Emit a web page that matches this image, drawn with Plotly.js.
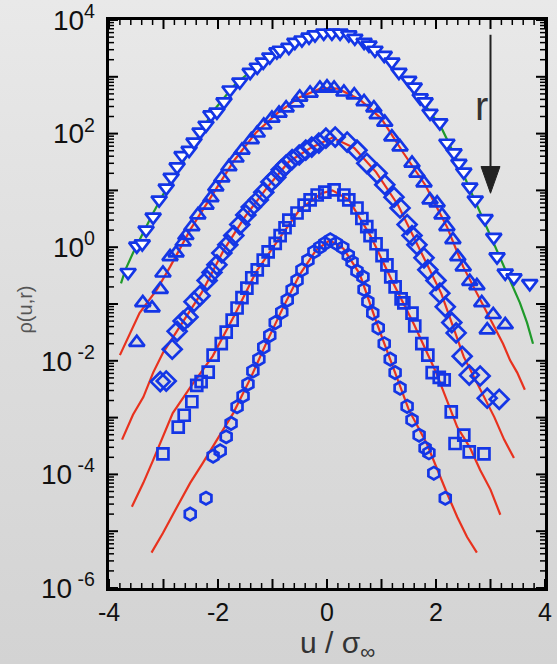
<!DOCTYPE html>
<html>
<head>
<meta charset="utf-8">
<script src="https://cdn.plot.ly/plotly-3.0.1.min.js"></script>
<style>
html,body{margin:0;padding:0;}
body{width:557px;height:664px;background:linear-gradient(180deg,#e9e9e9 0%,#dedede 45%,#d3d3d3 100%);}
#chart{width:557px;height:664px;}
</style>
</head>
<body>
<div id="chart"></div>
<script>
// ---- markers (u / sigma_inf, rho) ----
const u1 = [-3.65,-3.49,-3.39,-3.32,-3.19,-3.08,-2.95,-2.86,-2.75,-2.66,-2.53,-2.44,-2.33,-2.22,-2.13,-2.02,-1.89,-1.78,-1.60,-1.41,-1.28,-1.17,-1.05,-0.92,-0.86,-0.70,-0.59,-0.46,-0.33,-0.22,-0.06,0.09,0.24,0.40,0.51,0.68,0.77,0.88,1.05,1.19,1.32,1.50,1.60,1.71,1.80,1.89,2.07,2.20,2.33,2.42,2.51,2.62,2.72,2.90,3.06,3.12,3.27,3.43,3.72];
const p1 = [0.36,1.05,1.15,2.0,3.4,6.8,11,17,26,41,51,71,107,141,214,240,363,589,813,1200,1480,1820,2240,2750,2950,3310,4070,4470,5010,5500,5890,5890,5890,5500,4790,4070,3630,2950,2400,1820,1200,870,660,427,363,229,155,68,46,30,21,11.5,6.8,3.2,1.5,0.68,0.35,0.29,0.23];

const u2 = [-3.49,-3.38,-3.21,-3.06,-3.01,-2.88,-2.77,-2.64,-2.59,-2.48,-2.37,-2.22,-2.13,-2.04,-1.93,-1.80,-1.67,-1.56,-1.39,-1.28,-1.16,-1.01,-0.88,-0.75,-0.57,-0.50,-0.31,-0.13,0.0,0.13,0.31,0.50,0.68,0.86,0.92,1.06,1.19,1.34,1.56,1.65,1.78,1.89,2.02,2.11,2.20,2.31,2.40,2.50,2.62,2.75,2.84,3.05,2.94,3.27];
const p2 = [0.021,0.105,0.085,0.18,0.35,0.68,0.79,1.23,1.6,2.3,3.7,5.5,7.4,11.5,16.6,26,37,51,78,102,141,186,229,282,347,437,513,631,661,631,537,479,363,282,214,158,87,58,30,20,13.5,6.8,6.0,3.7,2.3,1.35,0.68,0.45,0.25,0.21,0.105,0.065,0.035,0.043];

const u3 = [-3.06,-2.95,-2.84,-2.75,-2.64,-2.55,-2.44,-2.33,-2.20,-2.11,-2.02,-1.93,-1.82,-1.71,-1.60,-1.49,-1.39,-1.26,-1.16,-1.03,-0.94,-0.84,-0.75,-0.64,-0.51,-0.39,-0.28,-0.15,-0.02,0.15,0.37,0.55,0.73,0.92,1.06,1.23,1.34,1.47,1.56,1.65,1.78,1.85,2.00,2.07,2.17,2.29,2.37,2.48,2.61,2.81,2.94,3.16];
const p3 = [0.0043,0.0044,0.016,0.033,0.050,0.059,0.11,0.14,0.26,0.36,0.49,0.79,1.1,1.6,2.5,3.7,5.1,6.8,9.3,14,17,23,28,35,42,51,58,68,83,87,71,51,30,20,12.6,7.6,4.9,2.5,1.6,1.1,0.65,0.40,0.26,0.155,0.089,0.047,0.031,0.012,0.0056,0.0054,0.0022,0.0021];

const u4 = [-3.01,-2.73,-2.62,-2.48,-2.39,-2.31,-2.18,-2.09,-1.94,-1.85,-1.74,-1.65,-1.56,-1.47,-1.38,-1.28,-1.17,-1.08,-0.95,-0.86,-0.77,-0.70,-0.55,-0.42,-0.31,-0.18,-0.04,0.13,0.31,0.40,0.55,0.64,0.73,0.79,0.90,1.01,1.10,1.17,1.25,1.36,1.41,1.56,1.61,1.74,1.85,1.93,2.06,2.15,2.28,2.51,2.35,2.61,2.88];
const p4 = [0.00023,0.00068,0.0011,0.0019,0.0037,0.0043,0.0063,0.0126,0.020,0.032,0.052,0.085,0.13,0.19,0.29,0.40,0.59,0.83,1.17,1.6,2.2,3.0,4.0,5.5,6.8,8.3,9.3,10.2,8.3,6.8,4.9,3.2,2.3,1.6,1.15,0.71,0.49,0.30,0.20,0.123,0.105,0.069,0.041,0.020,0.0126,0.0062,0.0051,0.0046,0.00126,0.00049,0.00035,0.00025,0.00023];

const u5 = [-2.51,-2.22,-2.09,-1.96,-1.85,-1.76,-1.65,-1.54,-1.45,-1.36,-1.25,-1.16,-1.05,-0.95,-0.83,-0.73,-0.64,-0.55,-0.46,-0.35,-0.24,-0.13,-0.04,0.06,0.17,0.29,0.39,0.46,0.55,0.66,0.68,0.75,0.84,0.94,1.05,1.16,1.25,1.34,1.47,1.56,1.69,1.80,1.87,1.96,2.17];
const p5 = [2.0e-5,3.8e-5,2.1e-4,2.6e-4,4.6e-4,7.9e-4,1.55e-3,2.4e-3,3.9e-3,6.6e-3,0.0107,0.0174,0.028,0.047,0.072,0.117,0.178,0.26,0.40,0.59,0.83,1.0,1.17,1.35,1.17,0.98,0.72,0.55,0.38,0.30,0.18,0.11,0.069,0.038,0.020,0.0107,0.0062,0.0033,0.00158,0.00091,0.00049,0.00029,0.00024,0.000105,3.8e-5];

// ---- reference curves (lines) ----
const lx1 = [-3.78,-3.70,-3.56,-3.37,-3.19,-2.9,-2.5,-2.1,-1.7,-1.3,-0.9,-0.5,-0.1,0.2,0.5,0.9,1.3,1.7,2.1,2.4,2.75,3.12,3.39,3.54,3.67,3.78];
const ly1 = [0.23,0.40,0.79,1.8,4.0,13,52,240,710,1510,2820,4570,5890,5890,4900,2880,1200,427,126,32,5.5,0.89,0.23,0.105,0.047,0.020];
const lx2 = [-3.80,-3.58,-3.44,-3.12,-2.88,-2.5,-2.1,-1.7,-1.3,-0.9,-0.5,-0.1,0.2,0.6,1.0,1.4,1.8,2.2,2.5,2.8,3.14,3.23,3.36,3.49,3.63];
const ly2 = [0.0126,0.035,0.069,0.18,0.45,2.1,8.3,34,105,234,437,631,617,398,182,46,12.6,2.3,0.45,0.126,0.031,0.020,0.0102,0.0062,0.0031];
const lx3 = [-3.76,-3.56,-3.37,-3.19,-3.01,-2.7,-2.3,-1.9,-1.5,-1.1,-0.7,-0.3,0.1,0.5,0.9,1.3,1.7,2.1,2.51,2.88,3.07,3.25,3.43];
const ly3 = [4.1e-4,1.12e-3,2.3e-3,6.2e-3,0.0138,0.040,0.158,0.87,3.5,11.2,32,56,85,56,21,5.6,0.89,0.151,0.0117,0.0023,0.00102,0.00041,0.000195];
const lx4 = [-3.58,-3.37,-3.19,-3.01,-2.83,-2.5,-2.1,-1.7,-1.3,-0.9,-0.5,-0.1,0.1,0.4,0.8,1.2,1.6,2.0,2.39,2.62,2.81,3.0,3.18];
const ly4 = [2.7e-5,7.1e-5,1.78e-4,4.6e-4,1.2e-3,3.5e-3,0.012,0.063,0.37,1.32,4.6,8.9,10,6.8,1.58,0.25,0.043,0.0063,6.8e-4,3.0e-4,1.2e-4,5.4e-5,1.95e-5];
const lx5 = [-3.22,-3.01,-2.75,-2.51,-2.28,-2.02,-1.72,-1.4,-1.1,-0.8,-0.5,-0.2,0.05,0.3,0.6,0.9,1.2,1.5,1.83,2.02,2.20,2.39,2.57,2.75];
const ly5 = [4.2e-6,9.3e-6,2.7e-5,7.1e-5,1.58e-4,4.1e-4,1.2e-3,5.0e-3,0.022,0.089,0.33,0.89,1.32,0.95,0.34,0.050,8.3e-3,1.38e-3,3.5e-4,1.2e-4,4.7e-5,1.78e-5,7.9e-6,4.2e-6];

// ---- axis ticks ----
const xTickVals = [-4,-3,-2,-1,0,1,2,3,4];
const xTickText = ['-4','','-2','','0','','2','','4'];
const yTickVals = [1e-6,1e-5,1e-4,1e-3,1e-2,1e-1,1,10,100,1000,10000];
const yTickText = ['10<sup>\u00a0-6\u00a0</sup>','','10<sup>\u00a0-4\u00a0</sup>','','10<sup>\u00a0-2\u00a0</sup>','','10<sup>0\u00a0</sup>','','10<sup>2\u00a0</sup>','','10<sup>4\u00a0</sup>'];

const BLUE = '#1436e6';
const RED = '#e8321e';
const GREEN = '#1f9a2a';

function lineTrace(x, y, color) {
  return {x: x, y: y, type: 'scatter', mode: 'lines', line: {color: color, width: 2.2}, hoverinfo: 'skip'};
}
function markTrace(x, y, symbol, size, fill) {
  const open = symbol.indexOf('-open') > 0;
  return {x: x, y: y, type: 'scatter', mode: 'markers',
    marker: {symbol: symbol, size: size, color: open ? BLUE : fill, line: {color: BLUE, width: 2.7}}};
}

const data = [
  lineTrace(lx1, ly1, GREEN), lineTrace(lx2, ly2, RED), lineTrace(lx3, ly3, RED),
  lineTrace(lx4, ly4, RED), lineTrace(lx5, ly5, RED),
  markTrace(u1, p1, 'triangle-down', 13.5, '#ffffff'),
  markTrace(u2, p2, 'triangle-up-open', 13.5),
  markTrace(u3, p3, 'diamond-open', 14.5),
  markTrace(u4, p4, 'square-open', 11),
  markTrace(u5, p5, 'hexagon-open', 12.5)
];

const FONT = 'Liberation Sans, Arial, Helvetica, sans-serif';

// ---- frame ticks (inside, on all four sides) drawn as shapes ----
const PLOT_W = 436, PLOT_H = 568;
const tickShapes = [];
function xTick(v, len, w) {
  const h = len / PLOT_H;
  tickShapes.push({type: 'line', xref: 'x', yref: 'paper', x0: v, x1: v, y0: 0, y1: h, line: {color: '#000', width: w}});
  tickShapes.push({type: 'line', xref: 'x', yref: 'paper', x0: v, x1: v, y0: 1, y1: 1 - h, line: {color: '#000', width: w}});
}
function yTick(v, len, w) {
  const p = (Math.log10(v) + 6) / 10, l = len / PLOT_W;
  tickShapes.push({type: 'line', xref: 'paper', yref: 'paper', x0: 0, x1: l, y0: p, y1: p, line: {color: '#000', width: w}});
  tickShapes.push({type: 'line', xref: 'paper', yref: 'paper', x0: 1, x1: 1 - l, y0: p, y1: p, line: {color: '#000', width: w}});
}
for (let i = 0; i <= 40; i++) {
  const v = -4 + i * 0.2;
  if (i % 5 === 0) xTick(v, 9, 2); else xTick(v, 5, 1.5);
}
for (let e = -6; e <= 4; e++) {
  yTick(Math.pow(10, e), 9, 2);
  if (e < 4) for (let k = 2; k <= 9; k++) yTick(k * Math.pow(10, e), 5, 1.5);
}

const layout = {
  width: 557, height: 664,
  margin: {l: 109, r: 12, t: 20, b: 76},
  paper_bgcolor: 'rgba(0,0,0,0)',
  plot_bgcolor: 'rgba(0,0,0,0)',
  showlegend: false,
  font: {family: FONT, color: '#111'},
  xaxis: {
    range: [-4, 4],
    showline: true, linewidth: 3, linecolor: '#000', mirror: true, showgrid: false, zeroline: false,
    ticks: '', tickmode: 'array', tickvals: xTickVals, ticktext: xTickText,
    tickfont: {size: 25, family: FONT, color: '#111'}
  },
  yaxis: {
    type: 'log', range: [-6, 4],
    showline: true, linewidth: 3, linecolor: '#000', mirror: true, showgrid: false, zeroline: false,
    ticks: '', tickmode: 'array', tickvals: yTickVals, ticktext: yTickText,
    tickfont: {size: 28, family: FONT, color: '#111'}
  },
  shapes: tickShapes.concat([
    {type: 'line', xref: 'x', yref: 'paper', x0: 3.0, x1: 3.0, y0: 0.974, y1: 0.74, line: {color: '#222', width: 2}},
    {type: 'path', xref: 'x', yref: 'paper', path: 'M 2.826 0.742 L 3.174 0.742 L 3.0 0.695 Z', fillcolor: '#222', line: {color: '#222', width: 1}}
  ]),
  annotations: [
    {text: 'r', xref: 'x', yref: 'paper', x: 2.83, y: 0.849, xanchor: 'center', yanchor: 'middle', showarrow: false, font: {size: 40, family: FONT, color: '#333'}},
    {text: 'ρ(u,r)', xref: 'paper', yref: 'paper', x: -0.193, y: 0.49, xanchor: 'center', yanchor: 'middle', textangle: -90, showarrow: false, font: {size: 20, family: FONT, color: '#555'}},
    {text: 'u / σ<sub>∞</sub>', xref: 'paper', yref: 'paper', x: 0.523, y: -0.10, xanchor: 'center', yanchor: 'middle', showarrow: false, font: {size: 30, family: FONT, color: '#333'}}
  ]
};

Plotly.newPlot('chart', data, layout, {displayModeBar: false});
</script>
</body>
</html>
